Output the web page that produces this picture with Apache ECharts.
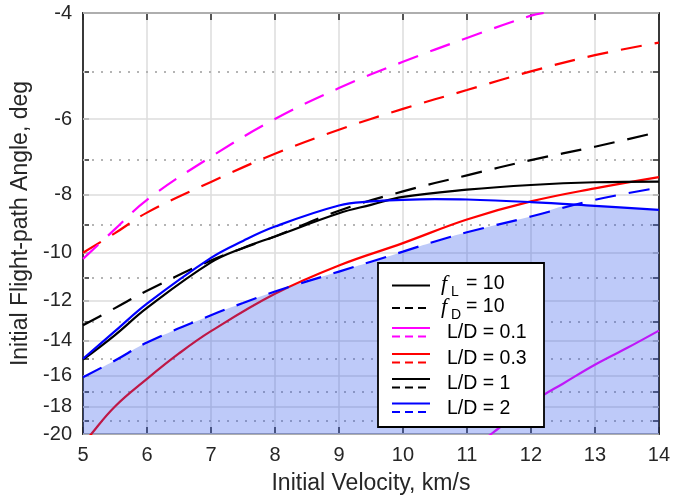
<!DOCTYPE html>
<html><head><meta charset="utf-8">
<script src="https://cdn.jsdelivr.net/npm/echarts@6/dist/echarts.min.js"></script>
<style>html,body{margin:0;padding:0;background:#fff}#c{width:673px;height:502px}</style>
</head><body><div id="c"></div>
<script>
// ---- tick labels ----
const xTicks = [5, 6, 7, 8, 9, 10, 11, 12, 13, 14];
const yTicks = [-4, -6, -8, -10, -12, -14, -16, -18, -20];
const yMinor = [-5, -7, -9, -11, -13, -15, -17, -19];

// ---- data (initial velocity km/s, flight-path angle deg) ----
const vCommon = [5, 5.5, 6, 7, 8, 9, 10, 11, 12, 13, 14];

const ld01_fD_v = [5, 5.5, 6, 7, 8, 9, 10, 11, 12, 12.2];
const ld01_fD   = [-10.24, -9.14, -8.17, -6.93, -6.0, -5.33, -4.82, -4.40, -4.04, -4.0];
const ld01_fL_v = [11.2, 11.38, 12, 12.17, 12.5, 13, 13.5, 14];
const ld01_fL   = [-20.8, -20, -17.85, -17.3, -16.5, -15.35, -14.4, -13.47];

const ld03_fD   = [-10.0, -9.28, -8.58, -7.63, -6.85, -6.25, -5.77, -5.37, -5.0, -4.70, -4.48];
const ld03_fL_v = [5.0, 5.13, 5.5, 6, 6.5, 7, 8, 9, 10, 11, 12, 13, 14];
const ld03_fL   = [-20.9, -20, -18.0, -16.2, -14.7, -13.5, -11.7, -10.5, -9.64, -8.81, -8.22, -7.82, -7.49];

const ld1_fD    = [-13.2, -12.36, -11.57, -10.3, -9.4, -8.52, -7.91, -7.44, -7.02, -6.67, -6.30];
const ld1_fL_v  = [5, 5.5, 6, 7, 7.5, 8, 9, 9.5, 10, 11, 12, 13, 14];
const ld1_fL    = [-15.05, -13.7, -12.35, -10.38, -9.82, -9.4, -8.6, -8.33, -8.08, -7.86, -7.72, -7.64, -7.62];

const ld2_v     = [5, 5.5, 6, 7, 7.5, 8, 9, 9.5, 10, 10.5, 11, 12, 13, 14];
const ld2_fL    = [-15.0, -13.5, -12.15, -10.2, -9.56, -9.05, -8.35, -8.22, -8.17, -8.15, -8.16, -8.24, -8.36, -8.49];
const ld2_fD    = [-16.1, -15.1, -14.1, -12.7, -12.12, -11.6, -10.75, -10.35, -9.96, -9.58, -9.25, -8.71, -8.17, -7.80];

// ---- helpers ----
const FONT = '"Liberation Sans", Arial, Helvetica, sans-serif';
const TXT = '#262626';
const pairs = (xs, ys) => xs.map((x, i) => [x, -ys[i]]); // magnitude for log axis
function lowerEnvelope(xs, a, b) {
  const out = [];
  for (let i = 0; i < xs.length; i++) {
    out.push([xs[i], Math.min(a[i], b[i])]);
    if (i < xs.length - 1) {
      const d0 = a[i] - b[i], d1 = a[i + 1] - b[i + 1];
      if (d0 * d1 < 0) {
        const t = d0 / (d0 - d1);
        out.push([xs[i] + t * (xs[i + 1] - xs[i]), a[i] + t * (a[i + 1] - a[i])]);
      }
    }
  }
  return out.map(p => [p[0], -p[1]]);
}
const yMagTicks = yTicks.map(v => -v);
const yMagAll = yTicks.concat(yMinor).map(v => -v).sort((a, b) => a - b);
const yBottom = Math.max(...yMagTicks), yTop = Math.min(...yMagTicks);

const DASH = [21, 13];
const SMOOTH = 0.4;
function lineSeries(name, data, color, dashed, z) {
  return {
    name, type: 'line', data, smooth: SMOOTH, showSymbol: false, symbol: 'none',
    z, silent: true, animation: false, clip: true,
    lineStyle: { color, width: 2.2, type: dashed ? DASH : 'solid' }
  };
}

const yAxisBase = {
  type: 'log', logBase: 10, min: yTop, max: yBottom, inverse: true,
  axisLine: { show: true, lineStyle: { color: TXT, width: 1.8 } },
  axisTick: { show: true, inside: true, length: 6, customValues: yMagAll, lineStyle: { color: TXT, width: 1.5 } },
  splitLine: { show: false }, minorTick: { show: false }, minorSplitLine: { show: false }
};
const xAxisBase = {
  type: 'value', min: xTicks[0], max: xTicks[xTicks.length - 1], interval: 1,
  axisLine: { show: true, onZero: false, lineStyle: { color: TXT, width: 1.8 } },
  axisTick: { show: true, inside: true, length: 7, lineStyle: { color: TXT, width: 1.5 } }
};

const option = {
  backgroundColor: '#fff',
  animation: false,
  grid: { left: 83, right: 12, top: 13, bottom: 68, containLabel: false },
  xAxis: [
    Object.assign({}, xAxisBase, {
      position: 'bottom',
      name: 'Initial Velocity, km/s', nameLocation: 'middle', nameGap: 38,
      nameTextStyle: { fontFamily: FONT, fontSize: 23, color: TXT },
      axisLabel: { fontFamily: FONT, fontSize: 20, color: TXT, margin: 11 },
      splitLine: { show: true, lineStyle: { color: '#dcdcdc', width: 1.5 } }
    }),
    Object.assign({}, xAxisBase, { position: 'top', axisLabel: { show: false }, splitLine: { show: false } })
  ],
  yAxis: [
    Object.assign({}, yAxisBase, {
      position: 'left',
      name: 'Initial Flight-path Angle, deg', nameLocation: 'middle', nameGap: 50,
      nameTextStyle: { fontFamily: FONT, fontSize: 23, color: TXT },
      axisLabel: {
        fontFamily: FONT, fontSize: 20, color: TXT, margin: 11, customValues: yMagTicks,
        formatter: v => '-' + Math.round(v)
      }
    }),
    Object.assign({}, yAxisBase, { position: 'right', axisLabel: { show: false } })
  ],
  series: [
    {
      name: 'grid', type: 'line', data: [], silent: true, z: 1,
      markLine: {
        silent: true, symbol: ['none', 'none'], animation: false, z: 1,
        label: { show: false },
        data: yTicks.map(v => ({ yAxis: -v, lineStyle: { color: '#dcdcdc', width: 1.5, type: 'solid' } }))
          .concat(yMinor.map(v => ({ yAxis: -v, lineStyle: { color: '#b4b4b4', width: 2, type: [2, 7] } })))
      }
    },
    lineSeries('L/D = 0.3 fL', pairs(ld03_fL_v, ld03_fL), '#ff0000', false, 2),
    lineSeries('L/D = 0.1 fL', pairs(ld01_fL_v, ld01_fL), '#ff00ff', false, 2),
    lineSeries('L/D = 1 fL', pairs(ld1_fL_v, ld1_fL), '#000000', false, 2),
    lineSeries('L/D = 1 fD', pairs(vCommon, ld1_fD), '#000000', true, 2),
    lineSeries('L/D = 0.3 fD', pairs(vCommon, ld03_fD), '#ff0000', true, 2),
    lineSeries('L/D = 0.1 fD', pairs(ld01_fD_v, ld01_fD), '#ff00ff', true, 2),
    {
      name: 'region', type: 'line', data: lowerEnvelope(ld2_v, ld2_fL, ld2_fD), smooth: SMOOTH,
      showSymbol: false, symbol: 'none', silent: true, z: 3, animation: false,
      lineStyle: { width: 0, opacity: 0 },
      areaStyle: { color: 'rgba(40,80,235,0.3)', origin: yBottom, opacity: 1 }
    },
    lineSeries('L/D = 2 fL', pairs(ld2_v, ld2_fL), '#0000ff', false, 4),
    lineSeries('L/D = 2 fD', pairs(ld2_v, ld2_fD), '#0000ff', true, 4)
  ],
  graphic: {
    elements: [
      { type: 'rect', z: 100, shape: { x: 378, y: 263, width: 166, height: 164 },
        style: { fill: '#fff', stroke: '#000', lineWidth: 1.8 } },
      // f_L
      { type: 'line', z: 101, shape: { x1: 392, y1: 285.5, x2: 430, y2: 285.5 }, style: { stroke: '#000', lineWidth: 2 } },
      { type: 'text', z: 101, style: { text: 'f', x: 441, y: 284, fontFamily: '"Liberation Serif", "DejaVu Serif", serif', fontStyle: 'italic', fontSize: 22, fill: '#000', textVerticalAlign: 'middle' } },
      { type: 'text', z: 101, style: { text: 'L', x: 451, y: 292, fontFamily: FONT, fontSize: 14, fill: '#000', textVerticalAlign: 'middle' } },
      { type: 'text', z: 101, style: { text: '= 10', x: 466, y: 284, fontFamily: FONT, fontSize: 19.5, fill: '#000', textVerticalAlign: 'middle' } },
      // f_D
      { type: 'line', z: 101, shape: { x1: 392, y1: 308, x2: 430, y2: 308 }, style: { stroke: '#000', lineWidth: 2, lineDash: [8, 5] } },
      { type: 'text', z: 101, style: { text: 'f', x: 441, y: 307, fontFamily: '"Liberation Serif", "DejaVu Serif", serif', fontStyle: 'italic', fontSize: 22, fill: '#000', textVerticalAlign: 'middle' } },
      { type: 'text', z: 101, style: { text: 'D', x: 451, y: 315, fontFamily: FONT, fontSize: 14, fill: '#000', textVerticalAlign: 'middle' } },
      { type: 'text', z: 101, style: { text: '= 10', x: 466, y: 307, fontFamily: FONT, fontSize: 19.5, fill: '#000', textVerticalAlign: 'middle' } }
    ].concat(
      [['L/D = 0.1', '#ff00ff', 328], ['L/D = 0.3', '#ff0000', 354], ['L/D = 1', '#000000', 379], ['L/D = 2', '#0000ff', 403.5]]
        .flatMap(([t, c, y]) => [
          { type: 'line', z: 101, shape: { x1: 392, y1: y, x2: 430, y2: y }, style: { stroke: c, lineWidth: 2 } },
          { type: 'line', z: 101, shape: { x1: 392, y1: y + 8.5, x2: 430, y2: y + 8.5 }, style: { stroke: c, lineWidth: 2, lineDash: [8, 5] } },
          { type: 'text', z: 101, style: { text: t, x: 447, y: y + 5, fontFamily: FONT, fontSize: 19.5, fill: '#000', textVerticalAlign: 'middle' } }
        ])
    )
  }
};
const chart = echarts.init(document.getElementById('c'), null, { renderer: 'canvas' });
chart.setOption(option);
</script>
</body></html>
